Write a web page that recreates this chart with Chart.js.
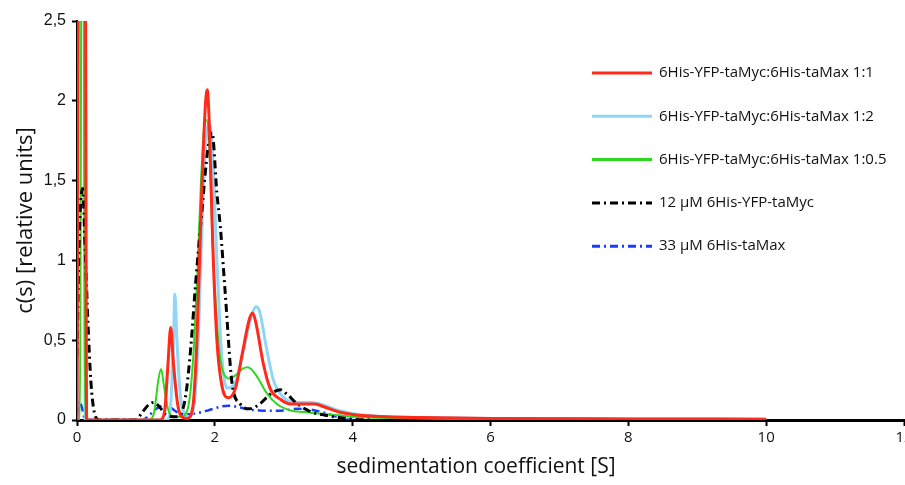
<!DOCTYPE html>
<html>
<head>
<meta charset="utf-8">
<script src="https://cdn.jsdelivr.net/npm/chart.js@4.4.1/dist/chart.umd.min.js"></script>
<style>
  html, body { margin: 0; padding: 0; background: #fff; }
  #wrap { width: 905px; height: 485px; position: relative; }
</style>
</head>
<body>
<div id="wrap"><canvas id="chart"></canvas></div>
<script>
// sedimentation coefficient [S], c(s) pairs
const ratio11 = [[0,0],[0.025,3],[0.12,3],[0.14,0],[1.2,0],[1.27,0.05],[1.32,0.35],[1.36,0.58],[1.4,0.35],[1.46,0.1],[1.52,0.02],[1.6,0.01],[1.68,0.08],[1.74,0.5],[1.8,1.3],[1.86,1.95],[1.89,2.07],[1.92,1.85],[1.97,1.1],[2.03,0.5],[2.1,0.22],[2.2,0.14],[2.3,0.2],[2.4,0.42],[2.5,0.63],[2.55,0.67],[2.6,0.6],[2.7,0.36],[2.8,0.2],[2.95,0.13],[3.1,0.1],[3.3,0.1],[3.45,0.1],[3.6,0.08],[3.8,0.05],[4,0.035],[4.5,0.02],[5,0.015],[6,0.01],[8,0.007],[10,0.005]];
const ratio12 = [[0,0],[0.02,3],[0.1,3],[0.12,0],[1.3,0],[1.36,0.1],[1.4,0.5],[1.42,0.79],[1.45,0.5],[1.5,0.15],[1.56,0.04],[1.62,0.02],[1.7,0.1],[1.76,0.5],[1.82,1.3],[1.88,1.8],[1.93,1.85],[1.97,1.65],[2.03,1.0],[2.1,0.4],[2.18,0.2],[2.28,0.22],[2.4,0.4],[2.5,0.6],[2.6,0.71],[2.65,0.68],[2.75,0.45],[2.85,0.25],[3,0.14],[3.2,0.11],[3.4,0.11],[3.6,0.09],[3.8,0.06],[4,0.04],[4.5,0.02],[5,0.015],[6,0.01],[8,0.007],[10,0.005]];
const ratio105 = [[0,0],[0.04,0],[0.08,5],[0.12,0],[1.05,0],[1.12,0.05],[1.18,0.25],[1.22,0.32],[1.26,0.22],[1.32,0.07],[1.4,0.02],[1.5,0.02],[1.6,0.06],[1.68,0.35],[1.75,0.95],[1.8,1.5],[1.85,1.85],[1.88,1.88],[1.92,1.7],[1.97,1.1],[2.05,0.5],[2.12,0.3],[2.22,0.26],[2.3,0.28],[2.4,0.32],[2.48,0.33],[2.6,0.28],[2.75,0.17],[2.9,0.1],[3.1,0.06],[3.3,0.05],[3.5,0.04],[3.8,0.03],[4,0.02],[5,0.01],[6,0.008],[8,0.005],[10,0.004]];
const myc12 = [[0,0.4],[0.03,1.1],[0.08,1.45],[0.12,1.05],[0.16,0.6],[0.2,0.25],[0.25,0.05],[0.32,0],[0.85,0],[0.95,0.05],[1.05,0.1],[1.12,0.11],[1.2,0.08],[1.3,0.03],[1.45,0.02],[1.52,0.05],[1.58,0.16],[1.65,0.45],[1.72,0.85],[1.8,1.25],[1.9,1.7],[1.96,1.8],[2.03,1.42],[2.08,1.21],[2.15,0.8],[2.25,0.23],[2.37,0.1],[2.5,0.07],[2.65,0.1],[2.8,0.16],[2.95,0.19],[3.05,0.16],[3.2,0.1],[3.4,0.05],[3.6,0.03],[3.8,0.015],[4,0.005],[4.3,0]];
const max33 = [[0,0.03],[0.03,0.12],[0.07,0.08],[0.12,0],[0.95,0],[1.05,0.03],[1.15,0.07],[1.25,0.09],[1.35,0.08],[1.45,0.05],[1.55,0.035],[1.7,0.04],[1.9,0.06],[2.1,0.085],[2.2,0.09],[2.35,0.08],[2.5,0.065],[2.65,0.06],[2.8,0.058],[3.0,0.06],[3.2,0.07],[3.4,0.065],[3.55,0.05],[3.7,0.03],[3.85,0.01],[4.0,0]];

const seriesNames = [
  '6His-YFP-taMyc:6His-taMax 1:1',
  '6His-YFP-taMyc:6His-taMax 1:2',
  '6His-YFP-taMyc:6His-taMax 1:0.5',
  '12 \u00b5M 6His-YFP-taMyc',
  '33 \u00b5M 6His-taMax'
];
const xTicks = [0, 2, 4, 6, 8, 10, 12];
const yTicks = [0, 0.5, 1, 1.5, 2, 2.5];
const xTitle = 'sedimentation coefficient [S]';

const toXY = arr => arr.map(p => ({ x: p[0], y: p[1] }));

// legend + x title drawn by hand, same place as the original figure
const sideLegend = {
  id: 'sideLegend',
  afterDraw(chart) {
    const ctx = chart.ctx;
    const area = chart.chartArea;
    const x0 = area.right - 312;
    let y = area.top + 52;
    chart.data.datasets.forEach(ds => {
      ctx.save();
      ctx.strokeStyle = ds.borderColor;
      ctx.lineWidth = 3;
      ctx.setLineDash(ds.borderDash || []);
      ctx.beginPath();
      ctx.moveTo(x0, y);
      ctx.lineTo(x0 + 60, y);
      ctx.stroke();
      ctx.setLineDash([]);
      ctx.fillStyle = '#111';
      ctx.font = '15px "Open Sans"';
      ctx.textBaseline = 'middle';
      ctx.fillText(ds.label, x0 + 67, y);
      ctx.restore();
      y += 43.3;
    });

    ctx.save();
    ctx.fillStyle = '#111';
    ctx.font = '21px "Open Sans"';
    ctx.textAlign = 'center';
    ctx.textBaseline = 'middle';
    ctx.fillText(xTitle, area.left + 399, area.bottom + 47);
    ctx.restore();
  }
};

const ctx = document.getElementById('chart').getContext('2d');
new Chart(ctx, {
  type: 'line',
  data: {
    datasets: [
      { label: seriesNames[0], data: toXY(ratio11), borderColor: '#ff2a1a', borderWidth: 3, order: 0 },
      { label: seriesNames[1], data: toXY(ratio12), borderColor: '#8fd6f8', borderWidth: 3, order: 3 },
      { label: seriesNames[2], data: toXY(ratio105), borderColor: '#2ed81f', borderWidth: 2, order: 2 },
      { label: seriesNames[3], data: toXY(myc12), borderColor: '#000000', borderWidth: 3, borderDash: [8, 4, 2, 4], order: 1 },
      { label: seriesNames[4], data: toXY(max33), borderColor: '#1a3cff', borderWidth: 2.5, borderDash: [8, 4, 2, 4], order: 4 }
    ]
  },
  options: {
    responsive: true,
    maintainAspectRatio: false,
    animation: false,
    layout: { padding: { top: 21, right: 1, left: 0, bottom: 0 } },
    elements: {
      point: { radius: 0 },
      line: { cubicInterpolationMode: 'monotone', fill: false }
    },
    plugins: {
      legend: { display: false },
      tooltip: { enabled: false }
    },
    scales: {
      x: {
        type: 'linear',
        min: 0,
        max: 12,
        afterBuildTicks: s => { s.ticks = xTicks.map(v => ({ value: v })); },
        afterFit: s => { s.height = 65; s.paddingLeft = 0; s.paddingRight = 0; },
        ticks: { color: '#111', font: { family: 'Open Sans', size: 15 }, padding: 3, maxRotation: 0 },
        grid: { drawOnChartArea: false, drawTicks: true, tickLength: 6, tickColor: '#000', tickWidth: 2 },
        border: { display: true, color: '#000', width: 3 },
        title: { display: false }
      },
      y: {
        min: 0,
        max: 2.5,
        afterBuildTicks: s => { s.ticks = yTicks.map(v => ({ value: v })); },
        afterFit: s => { s.width = 77; s.paddingTop = 0; s.paddingBottom = 0; },
        ticks: {
          color: '#111',
          font: { family: 'Liberation Sans', size: 16 },
          padding: 6,
          callback: v => String(v).replace('.', ',')
        },
        grid: { drawOnChartArea: false, drawTicks: true, tickLength: 5, tickColor: '#000', tickWidth: 2 },
        border: { display: true, color: '#000', width: 2 },
        title: {
          display: true,
          text: 'c(s) [relative units]',
          color: '#111',
          font: { family: 'Open Sans', size: 22 },
          padding: { top: 13, bottom: 0 }
        }
      }
    }
  },
  plugins: [sideLegend]
});
</script>
</body>
</html>
